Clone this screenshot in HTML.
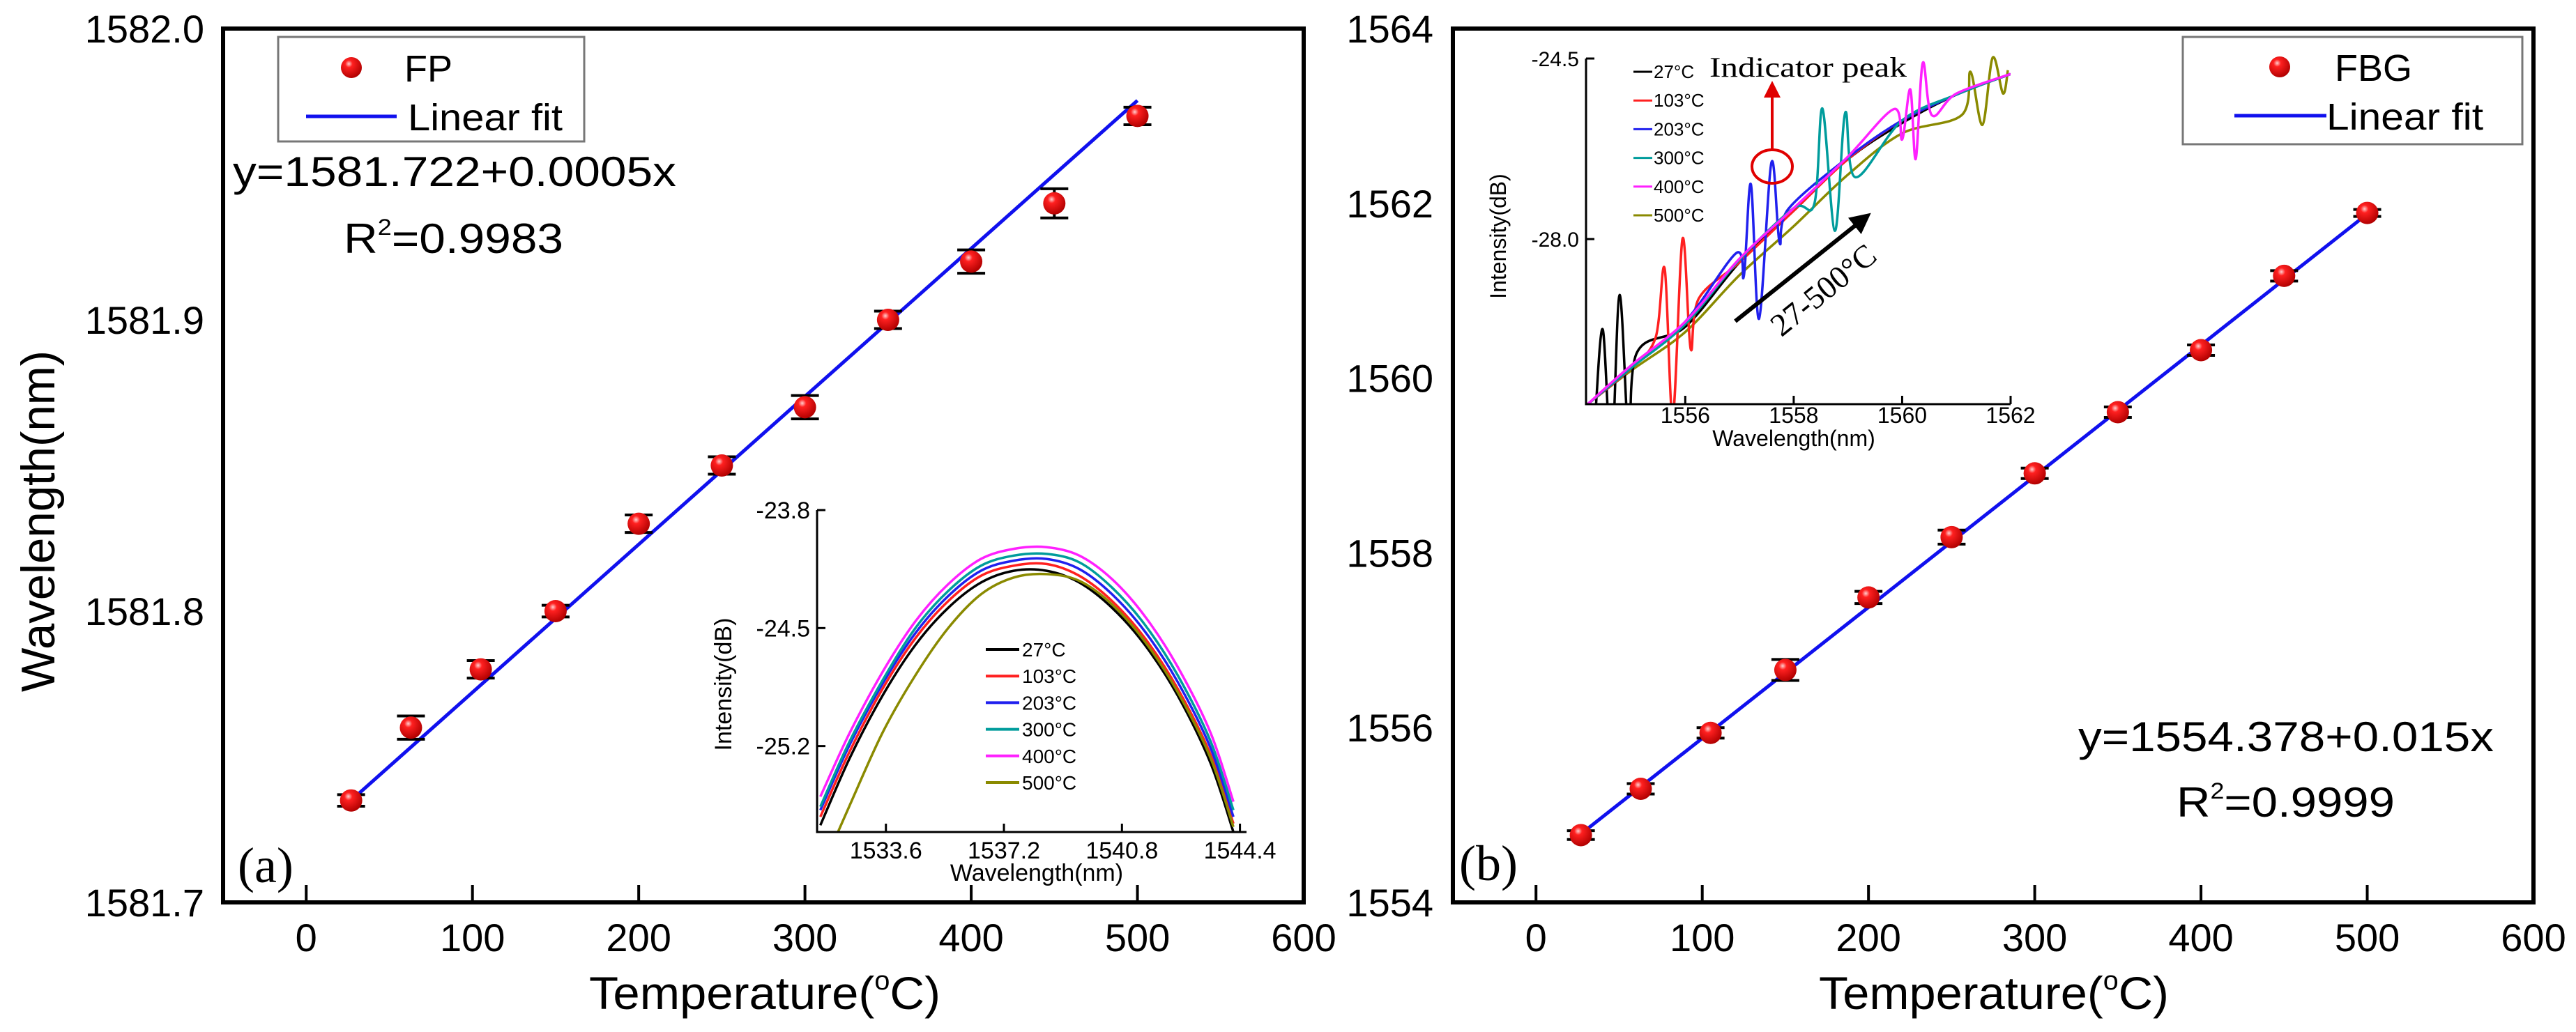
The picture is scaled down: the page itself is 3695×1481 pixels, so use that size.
<!DOCTYPE html>
<html><head><meta charset="utf-8"><style>
html,body{margin:0;padding:0;background:#fff;}
svg{display:block;font-family:"Liberation Sans",sans-serif;}
</style></head><body>
<svg id="fig" width="3695" height="1481" viewBox="0 0 3695 1481" xmlns="http://www.w3.org/2000/svg">
<defs>
<radialGradient id="ball" cx="0.38" cy="0.32" r="0.7">
<stop offset="0" stop-color="#ffd0d0"/><stop offset="0.25" stop-color="#ff2020"/><stop offset="1" stop-color="#b00000"/>
</radialGradient>
<clipPath id="clipLI"><rect x="1172" y="700" width="616" height="494"/></clipPath>
<clipPath id="clipRI"><rect x="2275" y="60" width="609" height="520"/></clipPath>
<marker id="arrR" markerWidth="6" markerHeight="6" refX="3" refY="3" orient="auto"><path d="M0,0 L6,3 L0,6 z" fill="#e00000"/></marker>
<marker id="arrK" markerWidth="5" markerHeight="5" refX="2.5" refY="2.5" orient="auto"><path d="M0,0 L5,2.5 L0,5 z" fill="#000"/></marker>
</defs>
<g id="panelA"></g>
<g id="panelB"></g>

<text x="54" y="748" font-size="68" text-anchor="middle" transform="rotate(-90 54 748)" dy="24" textLength="490" lengthAdjust="spacingAndGlyphs">Wavelength(nm)</text>
<text x="1097" y="1448" font-size="66" text-anchor="middle" textLength="504" lengthAdjust="spacingAndGlyphs">Temperature(<tspan font-size="38" dy="-28">o</tspan><tspan dy="28">C)</tspan></text>
<text x="341" y="1266" font-size="72" font-family="Liberation Serif, serif">(a)</text>
<text x="334" y="267" font-size="60" textLength="636" lengthAdjust="spacingAndGlyphs">y=1581.722+0.0005x</text>
<text x="493" y="363" font-size="60" textLength="315" lengthAdjust="spacingAndGlyphs">R<tspan font-size="32" dy="-26">2</tspan><tspan dy="26">=0.9983</tspan></text>
<g>
<rect x="399" y="53" width="439" height="150" fill="#fff" stroke="#777" stroke-width="3"/>
<circle cx="504" cy="97" r="15" fill="url(#ball)"/>
<text x="580" y="117" font-size="54">FP</text>
<line x1="439" y1="167" x2="569" y2="167" stroke="#1010ee" stroke-width="5"/>
<text x="585" y="187" font-size="54" textLength="222" lengthAdjust="spacingAndGlyphs">Linear fit</text>
</g>
<text x="1037" y="982" font-size="34" text-anchor="middle" transform="rotate(-90 1037 982)" dy="12">Intensity(dB)</text>
<text x="1487" y="1264" font-size="34" text-anchor="middle">Wavelength(nm)</text>

<text x="2860" y="1448" font-size="66" text-anchor="middle" textLength="502" lengthAdjust="spacingAndGlyphs">Temperature(<tspan font-size="38" dy="-28">o</tspan><tspan dy="28">C)</tspan></text>
<text x="2093" y="1263" font-size="72" font-family="Liberation Serif, serif">(b)</text>
<text x="2981" y="1078" font-size="60" textLength="596" lengthAdjust="spacingAndGlyphs">y=1554.378+0.015x</text>
<text x="3122" y="1172" font-size="60" textLength="313" lengthAdjust="spacingAndGlyphs">R<tspan font-size="32" dy="-26">2</tspan><tspan dy="26">=0.9999</tspan></text>
<g>
<rect x="3131" y="53" width="487" height="154" fill="#fff" stroke="#777" stroke-width="3"/>
<circle cx="3270" cy="96" r="15" fill="url(#ball)"/>
<text x="3349" y="116" font-size="54">FBG</text>
<line x1="3205" y1="166" x2="3337" y2="166" stroke="#1010ee" stroke-width="5"/>
<text x="3337" y="186" font-size="54" textLength="225" lengthAdjust="spacingAndGlyphs">Linear fit</text>
</g>
<text x="2149" y="339" font-size="32" text-anchor="middle" transform="rotate(-90 2149 339)" dy="11">Intensity(dB)</text>
<text x="2573" y="640" font-size="32" text-anchor="middle">Wavelength(nm)</text>
<text x="2452" y="110" font-size="40" font-family="Liberation Serif, serif" textLength="283" lengthAdjust="spacingAndGlyphs">Indicator peak</text>
<ellipse cx="2542" cy="239" rx="29" ry="24" fill="none" stroke="#e00000" stroke-width="4"/>
<line x1="2542" y1="214" x2="2542" y2="128" stroke="#e00000" stroke-width="4" marker-end="url(#arrR)"/>
<line x1="2489" y1="461" x2="2672" y2="315" stroke="#000" stroke-width="6" marker-end="url(#arrK)"/>
<text x="2625" y="428" font-size="46" font-family="Liberation Serif, serif" text-anchor="middle" transform="rotate(-39 2625 428)">27-500°C</text>
</svg>
<script>
const tempsA = [27, 63, 105, 150, 200, 250, 300, 350, 400, 450, 500];
const fpWave = [1581.735, 1581.760, 1581.780, 1581.800, 1581.830, 1581.850, 1581.870, 1581.900, 1581.920, 1581.940, 1581.970];
const fpErr = [0.002, 0.004, 0.003, 0.002, 0.003, 0.003, 0.004, 0.003, 0.004, 0.005, 0.003];
const fitA = [1581.7213, 0.000508];
const yTicksA = [1581.7, 1581.8, 1581.9, 1582.0];
const yTickLabelsA = ["1581.7", "1581.8", "1581.9", "1582.0"];
const xTicks = [0, 100, 200, 300, 400, 500, 600];

const tempsB = [27, 63, 105, 150, 200, 250, 300, 350, 400, 450, 500];
const fbgWave = [1554.77, 1555.30, 1555.94, 1556.66, 1557.49, 1558.18, 1558.91, 1559.61, 1560.32, 1561.17, 1561.89];
const fbgErr = [0.05, 0.06, 0.06, 0.12, 0.07, 0.08, 0.06, 0.06, 0.06, 0.06, 0.04];
const fitB = [1554.378, 0.015];
const yTicksB = [1554, 1556, 1558, 1560, 1562, 1564];

const insetALabels = ["27°C", "103°C", "203°C", "300°C", "400°C", "500°C"];
const insetColors = ["#000000", "#ff2020", "#2020ee", "#009c9c", "#ff20ff", "#8a8a00"];
const specWl = [1531.6, 1532.5, 1533.5, 1534.5, 1535.5, 1536.5, 1537.5, 1538.5, 1539.5, 1540.5, 1541.5, 1542.5, 1543.5, 1544.2];
const spec27 = [-25.67, -25.27, -24.90, -24.60, -24.38, -24.23, -24.16, -24.16, -24.23, -24.38, -24.60, -24.90, -25.30, -25.71];
const spec103 = [-25.62, -25.23, -24.86, -24.56, -24.34, -24.19, -24.13, -24.12, -24.19, -24.34, -24.56, -24.86, -25.25, -25.66];
const spec203 = [-25.58, -25.19, -24.83, -24.53, -24.31, -24.16, -24.10, -24.09, -24.15, -24.30, -24.52, -24.82, -25.21, -25.62];
const spec300 = [-25.56, -25.17, -24.81, -24.50, -24.28, -24.13, -24.07, -24.06, -24.11, -24.26, -24.48, -24.78, -25.17, -25.58];
const spec400 = [-25.50, -25.12, -24.76, -24.46, -24.24, -24.09, -24.03, -24.02, -24.07, -24.21, -24.43, -24.73, -25.12, -25.53];
const spec500 = [-25.95, -25.55, -25.12, -24.78, -24.50, -24.30, -24.20, -24.18, -24.22, -24.36, -24.58, -24.88, -25.27, -25.68];
const insetAXTicks = [1533.6, 1537.2, 1540.8, 1544.4];
const insetAYTicks = [-25.2, -24.5, -23.8];

const baseWl = [1554.2, 1555.0, 1556.0, 1557.0, 1558.0, 1559.0, 1560.0, 1561.0, 1562.0];
const baseDb = [-31.2, -30.5, -29.7, -28.5, -27.5, -26.5, -25.75, -25.2, -24.8];
const off27 = [0, 0, 0, 0.05, 0.05, 0.05, 0, 0, 0];
const off103 = [0, 0, 0.05, 0.05, 0.05, 0.05, 0.05, 0, 0];
const off203 = [0, 0, 0.1, 0.1, 0.08, 0.08, 0.05, 0, 0];
const off300 = [0, 0, 0.05, 0.1, 0.1, 0.1, 0.05, 0, 0];
const off400 = [0, 0.05, 0.1, 0.12, 0.1, 0.1, 0.08, 0.02, 0];
const off500 = [0, -0.05, -0.1, -0.2, -0.25, -0.25, -0.2, -0.15, 0];
const wig27Wl = [1554.35, 1554.48, 1554.64, 1554.79, 1554.97, 1555.1];
const wig27Dev = [-0.2, 1.2, -1.4, 1.6, -1.6, 0.2];
const wig103Wl = [1555.45, 1555.62, 1555.77, 1555.95, 1556.1, 1556.25];
const wig103Dev = [0.2, 1.4, -1.6, 1.7, -0.6, 0.2];
const wig203Wl = [1556.94, 1557.08, 1557.21, 1557.36, 1557.59, 1557.74, 1557.9];
const wig203Dev = [0.2, -0.4, 1.26, -1.5, 1.31, -0.4, 0.1];
const wig300Wl = [1558.38, 1558.53, 1558.76, 1558.95, 1559.14];
const wig300Dev = [-0.3, 1.4, -1.2, 0.9, -0.5];
const wig400Wl = [1559.85, 1560.0, 1560.15, 1560.25, 1560.38, 1560.55];
const wig400Dev = [0.3, -0.4, 0.5, -0.9, 0.9, -0.2];
const wig500Wl = [1561.1, 1561.26, 1561.48, 1561.67, 1561.86, 1561.95];
const wig500Dev = [-0.3, 0.45, -0.7, 0.5, -0.3, 0.1];
const insetBXTicks = [1556, 1558, 1560, 1562];
const insetBYTicks = [-28.0, -24.5];

const NS = "http://www.w3.org/2000/svg";
const svg = document.getElementById('fig');
const gA = document.getElementById('panelA');
const gB = document.getElementById('panelB');
function mk(tag, attrs, parent) {
  const e = document.createElementNS(NS, tag);
  for (const k in attrs) e.setAttribute(k, attrs[k]);
  (parent || svg).appendChild(e);
  return e;
}
const PX = 1550 / 650;
const xA = v => 320 + (v + 50) * PX;
const xB = v => 2084 + (v + 50) * PX;
const yA = v => 41 + (1582.0 - v) / 0.3 * 1254;
const yB = v => 41 + (1564 - v) / 10 * 1254;
const ixA = w => 1172 + (w - 1531.5) / 13.1 * 616;
const iyA = d => 732 + (-23.8 - d) / 1.91 * 462;
const ixB = w => 2275 + (w - 1554.17) / 7.83 * 609;
const iyB = d => 84 + (-24.5 - d) / 6.7 * 496;

function catmull(pts) {
  let d = 'M' + pts[0][0].toFixed(1) + ',' + pts[0][1].toFixed(1);
  for (let i = 0; i < pts.length - 1; i++) {
    const p0 = pts[Math.max(0, i - 1)], p1 = pts[i], p2 = pts[i + 1], p3 = pts[Math.min(pts.length - 1, i + 2)];
    const c1x = p1[0] + (p2[0] - p0[0]) / 6, c1y = p1[1] + (p2[1] - p0[1]) / 6;
    const c2x = p2[0] - (p3[0] - p1[0]) / 6, c2y = p2[1] - (p3[1] - p1[1]) / 6;
    d += ' C' + c1x.toFixed(1) + ',' + c1y.toFixed(1) + ' ' + c2x.toFixed(1) + ',' + c2y.toFixed(1) + ' ' + p2[0].toFixed(1) + ',' + p2[1].toFixed(1);
  }
  return d;
}
function interp(xs, ys, x) {
  if (x <= xs[0]) return ys[0];
  for (let i = 0; i < xs.length - 1; i++) if (x <= xs[i + 1]) return ys[i] + (ys[i + 1] - ys[i]) * (x - xs[i]) / (xs[i + 1] - xs[i]);
  return ys[ys.length - 1];
}

function drawPanel(g, xS, yS, temps, vals, errs, fit, yTicks, yLabels, id, left) {
  const fr = mk('rect', { x: xS(-50), y: 41, width: xS(600) - xS(-50), height: 1254, fill: 'none', stroke: '#000', 'stroke-width': 6 }, g);
  
  
  xTicks.forEach(t => {
    const tk = mk('line', { x1: xS(t), y1: 1295, x2: xS(t), y2: 1270, stroke: '#000', 'stroke-width': 4 }, g);
    
    
    const tl = mk('text', { x: xS(t), y: 1365, 'font-size': 56, 'text-anchor': 'middle' }, g);
    tl.textContent = String(t);
    
    
  });
  yTicks.forEach((t, i) => {
    const tl = mk('text', { x: left, y: yS(t) + 20, 'font-size': 56, 'text-anchor': 'end' }, g);
    tl.textContent = yLabels[i];
    
    
  });
  const x0 = temps[0], x1 = temps[temps.length - 1];
  const fl = mk('line', { x1: xS(x0), y1: yS(fit[0] + fit[1] * x0), x2: xS(x1), y2: yS(fit[0] + fit[1] * x1), stroke: '#1010ee', 'stroke-width': 5 }, g);
  
  
  temps.forEach((t, i) => {
    const cx = xS(t), top = yS(vals[i] + errs[i]), bot = yS(vals[i] - errs[i]);
    const eb = mk('path', { d: 'M' + (cx - 20) + ',' + top + ' H' + (cx + 20) + ' M' + cx + ',' + top + ' V' + bot + ' M' + (cx - 20) + ',' + bot + ' H' + (cx + 20), stroke: '#000', 'stroke-width': 4, fill: 'none' }, g);
    
    
    const pt = mk('ellipse', { cx: cx, cy: yS(vals[i]), rx: 16, ry: 16, fill: 'url(#ball)' }, g);
    
    
  });
}
drawPanel(gA, xA, yA, tempsA, fpWave, fpErr, fitA, yTicksA, yTickLabelsA, 'a', 293);
drawPanel(gB, xB, yB, tempsB, fbgWave, fbgErr, fitB, yTicksB, yTicksB.map(String), 'b', 2056);

const insA = mk('g', {}, gA);


const specA = [spec27, spec103, spec203, spec300, spec400, spec500];
const curvesA = mk('g', { 'clip-path': 'url(#clipLI)' }, insA);
specA.forEach((s, k) => {
  const pts = specWl.map((w, i) => [ixA(w), iyA(s[i])]);
  const p = mk('path', { d: catmull(pts), fill: 'none', stroke: insetColors[k], 'stroke-width': 3.5 }, curvesA);
  
  
});
const axA = mk('path', { d: 'M1172,732 V1194 H1788', fill: 'none', stroke: '#000', 'stroke-width': 3 }, insA);


insetAXTicks.forEach(t => {
  const tk = mk('line', { x1: ixA(t), y1: 1194, x2: ixA(t), y2: 1182, stroke: '#000', 'stroke-width': 3 }, insA);
  
  
  const tl = mk('text', { x: ixA(t), y: 1232, 'font-size': 34, 'text-anchor': 'middle' }, insA);
  tl.textContent = t.toFixed(1);
  
  
});
insetAYTicks.forEach(t => {
  const tk = mk('line', { x1: 1172, y1: iyA(t), x2: 1184, y2: iyA(t), stroke: '#000', 'stroke-width': 3 }, insA);
  
  
  const tl = mk('text', { x: 1162, y: iyA(t) + 12, 'font-size': 34, 'text-anchor': 'end' }, insA);
  tl.textContent = t.toFixed(1);
  
  
});
insetALabels.forEach((lab, k) => {
  const y = 932 + k * 38.2;
  const ln = mk('line', { x1: 1414, y1: y, x2: 1462, y2: y, stroke: insetColors[k], 'stroke-width': 4 }, insA);
  
  
  const tx = mk('text', { x: 1466, y: y + 10, 'font-size': 28 }, insA);
  tx.textContent = lab;
  
  
});

const insB = mk('g', {}, gB);


const wigWl = [wig27Wl, wig103Wl, wig203Wl, wig300Wl, wig400Wl, wig500Wl];
const wigDev = [wig27Dev, wig103Dev, wig203Dev, wig300Dev, wig400Dev, wig500Dev];
const offs = [off27, off103, off203, off300, off400, off500];
const curvesB = mk('g', { 'clip-path': 'url(#clipRI)' }, insB);
[5, 0, 1, 2, 3, 4].forEach(k => {
  const ww = wigWl[k], wd = wigDev[k], of = offs[k];
  const lo = ww[0] - 0.15, hi = ww[ww.length - 1] + 0.15;
  const base = w => interp(baseWl, baseDb, w) + interp(baseWl, of, w);
  const pts = [];
  baseWl.forEach(w => { if (w < lo || w > hi) pts.push([w, base(w)]); });
  ww.forEach((w, i) => pts.push([w, base(w) + wd[i]]));
  pts.sort((a, b) => a[0] - b[0]);
  const p = mk('path', { d: catmull(pts.map(q => [ixB(q[0]), iyB(q[1])])), fill: 'none', stroke: insetColors[k], 'stroke-width': 3.5 }, curvesB);
  
  
});
const axB = mk('path', { d: 'M2275,84 V580 H2884', fill: 'none', stroke: '#000', 'stroke-width': 3 }, insB);


insetBXTicks.forEach(t => {
  const tk = mk('line', { x1: ixB(t), y1: 580, x2: ixB(t), y2: 568, stroke: '#000', 'stroke-width': 3 }, insB);
  
  
  const tl = mk('text', { x: ixB(t), y: 607, 'font-size': 32, 'text-anchor': 'middle' }, insB);
  tl.textContent = String(t);
  
  
});
insetBYTicks.forEach(t => {
  const tk = mk('line', { x1: 2275, y1: iyB(t), x2: 2287, y2: iyB(t), stroke: '#000', 'stroke-width': 3 }, insB);
  
  
  const tl = mk('text', { x: 2265, y: iyB(t) + 11, 'font-size': 30, 'text-anchor': 'end' }, insB);
  tl.textContent = t.toFixed(1);
  
  
});
insetALabels.forEach((lab, k) => {
  const y = 103 + k * 41.2;
  const ln = mk('line', { x1: 2343, y1: y, x2: 2370, y2: y, stroke: insetColors[k], 'stroke-width': 3 }, insB);
  
  
  const tx = mk('text', { x: 2372, y: y + 9, 'font-size': 26 }, insB);
  tx.textContent = lab;
  
  
});
</script>
</body></html>
